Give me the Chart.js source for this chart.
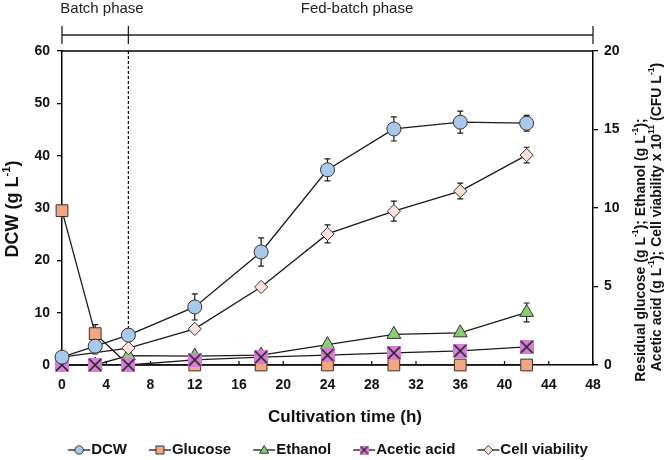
<!DOCTYPE html>
<html>
<head>
<meta charset="utf-8">
<script src="https://cdn.jsdelivr.net/npm/chart.js@4.4.1/dist/chart.umd.min.js"></script>
<style>
  html, body { margin: 0; padding: 0; background: #fff; }
  #wrap { width: 664px; height: 460px; }
</style>
</head>
<body>
<div id="wrap"><canvas id="growthChart" width="664" height="460"></canvas></div>
<script>
"use strict";

// sampling times (h)
var hours = [0, 3, 6, 12, 18, 24, 30, 36, 42];
var viabilityHours = [0, 6, 12, 18, 24, 30, 36, 42];

// left axis, g/L
var dcw = [1.5, 3.6, 5.7, 11.1, 21.6, 37.3, 45.1, 46.4, 46.2];
var dcwErr = [0, 1.5, 1.2, 2.5, 2.7, 2.1, 2.3, 2.1, 1.5];

// right axis
var glucose = [9.83, 2.0, 0, 0, 0, 0, 0, 0, 0];
var glucoseErr = [0, 0.57, 0, 0, 0, 0, 0, 0, 0];
var ethanol = [0, 0, 0.6, 0.57, 0.63, 1.3, 1.95, 2.05, 3.35];
var ethanolErr = [0, 0, 0, 0, 0, 0.08, 0.1, 0.1, 0.6];
var aceticAcid = [0, 0, 0, 0.33, 0.5, 0.63, 0.77, 0.9, 1.15];
var aceticErr = [0, 0, 0, 0, 0, 0, 0, 0, 0];
var viability = [0.5, 1.08, 2.3, 4.97, 8.35, 9.8, 11.08, 13.37];
var viabilityErr = [0, 0.1, 0.1, 0.15, 0.57, 0.64, 0.5, 0.5];

var xTicks = [0, 48, 4];
var leftTicks = [0, 60, 10];
var rightTicks = [0, 20, 5];
var batchEnd = 6;

var FONT = '"Liberation Sans", Arial, sans-serif';

function pairs(xs, ys) {
  return xs.map(function (x, i) {
    return { x: x, y: ys[i] };
  });
}

// magenta square with a cross, used for acetic acid
function crossBox(size) {
  var c = document.createElement("canvas");
  c.width = size;
  c.height = size;
  var g = c.getContext("2d");
  g.fillStyle = "#d77ed6";
  g.fillRect(0, 0, size, size);
  g.strokeStyle = "#222";
  g.lineWidth = size > 10 ? 1.6 : 1.2;
  g.beginPath();
  g.moveTo(1, 1);
  g.lineTo(size - 1, size - 1);
  g.moveTo(size - 1, 1);
  g.lineTo(1, size - 1);
  g.stroke();
  return c;
}

var crossBig = crossBox(14);
var crossSmall = crossBox(9);

function series(label, xs, ys, errs, axis, style, fill, radius, order) {
  return {
    label: label,
    data: pairs(xs, ys),
    errors: errs,
    yAxisID: axis,
    order: order,
    borderColor: "#1a1a1a",
    borderWidth: 1.3,
    tension: 0,
    clip: false,
    pointStyle: style,
    pointRadius: radius,
    pointHoverRadius: radius,
    pointBackgroundColor: fill,
    pointBorderColor: "#333",
    pointBorderWidth: 1,
  };
}

function drawRich(ctx, parts, cx, cy, size) {
  var w = 0;
  parts.forEach(function (p) {
    ctx.font = "bold " + (p.sup ? size * 0.62 : size) + "px " + FONT;
    w += ctx.measureText(p.t).width;
  });
  var x = cx - w / 2;
  ctx.textAlign = "left";
  ctx.textBaseline = "middle";
  parts.forEach(function (p) {
    ctx.font = "bold " + (p.sup ? size * 0.62 : size) + "px " + FONT;
    ctx.fillText(p.t, x, p.sup ? cy - size * 0.36 : cy);
    x += ctx.measureText(p.t).width;
  });
}

function legendMarker(ctx, ds, x, y) {
  ctx.fillStyle = ds.pointBackgroundColor;
  ctx.strokeStyle = "#333";
  ctx.lineWidth = 1;
  ctx.beginPath();
  if (ds.pointStyle === "circle") {
    ctx.arc(x, y, 4.2, 0, Math.PI * 2);
  } else if (ds.pointStyle === "rect") {
    ctx.rect(x - 4, y - 4, 8, 8);
  } else if (ds.pointStyle === "triangle") {
    ctx.moveTo(x, y - 4.5);
    ctx.lineTo(x + 4.5, y + 3.2);
    ctx.lineTo(x - 4.5, y + 3.2);
    ctx.closePath();
  } else if (ds.pointStyle === "rectRot") {
    ctx.moveTo(x, y - 4.5);
    ctx.lineTo(x + 4.5, y);
    ctx.lineTo(x, y + 4.5);
    ctx.lineTo(x - 4.5, y);
    ctx.closePath();
  } else {
    ctx.drawImage(crossSmall, x - 4.5, y - 4.5);
    return;
  }
  ctx.fill();
  ctx.stroke();
}

var errorBars = {
  id: "errorBars",
  beforeDatasetsDraw: function (chart) {
    var ctx = chart.ctx;
    ctx.save();
    ctx.strokeStyle = "#1a1a1a";
    ctx.lineWidth = 1.2;
    chart.data.datasets.forEach(function (ds, di) {
      var sc = chart.scales[ds.yAxisID];
      var meta = chart.getDatasetMeta(di);
      ds.data.forEach(function (pt, i) {
        var e = ds.errors[i];
        if (!e) return;
        var px = meta.data[i].x;
        var top = sc.getPixelForValue(pt.y + e);
        var bot = sc.getPixelForValue(Math.max(pt.y - e, 0));
        ctx.beginPath();
        ctx.moveTo(px, top);
        ctx.lineTo(px, bot);
        ctx.moveTo(px - 3, top);
        ctx.lineTo(px + 3, top);
        ctx.moveTo(px - 3, bot);
        ctx.lineTo(px + 3, bot);
        ctx.stroke();
      });
    });
    ctx.restore();
  },
};

var decorations = {
  id: "decorations",
  beforeDatasetsDraw: function (chart) {
    var ctx = chart.ctx;
    var a = chart.chartArea;
    var xs = chart.scales.x;
    ctx.save();
    ctx.strokeStyle = "#000";
    // top frame
    ctx.lineWidth = 1.5;
    ctx.beginPath();
    ctx.moveTo(a.left, a.top);
    ctx.lineTo(a.right, a.top);
    ctx.stroke();
    // x ticks pointing inward
    ctx.lineWidth = 1.2;
    ctx.beginPath();
    for (var t = xTicks[0]; t <= xTicks[1]; t += xTicks[2]) {
      var px = xs.getPixelForValue(t);
      ctx.moveTo(px, a.bottom);
      ctx.lineTo(px, a.bottom - 4);
    }
    ctx.stroke();
    // end of batch phase
    var bx = xs.getPixelForValue(batchEnd);
    ctx.setLineDash([3, 2]);
    ctx.beginPath();
    ctx.moveTo(bx, a.top);
    ctx.lineTo(bx, a.bottom);
    ctx.stroke();
    ctx.restore();
  },
  afterDraw: function (chart) {
    var ctx = chart.ctx;
    var xs = chart.scales.x;
    var x0 = xs.getPixelForValue(0);
    var x6 = xs.getPixelForValue(batchEnd);
    var x48 = xs.getPixelForValue(48);
    ctx.save();
    ctx.strokeStyle = "#222";
    ctx.lineWidth = 1.3;
    ctx.beginPath();
    ctx.moveTo(x0, 35);
    ctx.lineTo(x48, 35);
    [x0, x6, x48].forEach(function (px) {
      ctx.moveTo(px, 26);
      ctx.lineTo(px, 44);
    });
    ctx.stroke();

    ctx.fillStyle = "#222";
    ctx.font = "15px " + FONT;
    ctx.textAlign = "center";
    ctx.textBaseline = "middle";
    ctx.fillText("Batch phase", 102, 9);
    ctx.fillText("Fed-batch phase", 357, 9);

    ctx.fillStyle = "#111";
    // axis titles
    drawRich(ctx, [{ t: "Cultivation time (h)" }], 345, 417, 17);

    ctx.save();
    ctx.translate(13, 209);
    ctx.rotate(-Math.PI / 2);
    drawRich(ctx, [{ t: "DCW (g L" }, { t: "-1", sup: true }, { t: ")" }], 0, 0, 18);
    ctx.restore();

    ctx.save();
    ctx.translate(641, 250);
    ctx.rotate(-Math.PI / 2);
    drawRich(ctx, [
      { t: "Residual glucose (g L" }, { t: "-1", sup: true },
      { t: "); Ethanol (g L" }, { t: "-1", sup: true }, { t: ");" },
    ], 0, 0, 14);
    ctx.restore();

    ctx.save();
    ctx.translate(657, 217);
    ctx.rotate(-Math.PI / 2);
    drawRich(ctx, [
      { t: "Acetic acid (g L" }, { t: "-1", sup: true },
      { t: "); Cell viability x 10" }, { t: "11", sup: true },
      { t: " (CFU L" }, { t: "-1", sup: true }, { t: ")" },
    ], 0, 0, 14);
    ctx.restore();

    // legend
    var dsets = chart.data.datasets;
    ctx.font = "bold 15px " + FONT;
    var iconW = 22, gap = 22, total = 0;
    dsets.forEach(function (ds) {
      total += iconW + 1 + ctx.measureText(ds.label).width;
    });
    total += gap * (dsets.length - 1);
    var lx = 328 - total / 2;
    var ly = 450;
    dsets.forEach(function (ds) {
      ctx.strokeStyle = "#1a1a1a";
      ctx.lineWidth = 1.3;
      ctx.beginPath();
      ctx.moveTo(lx, ly);
      ctx.lineTo(lx + iconW, ly);
      ctx.stroke();
      legendMarker(ctx, ds, lx + iconW / 2, ly);
      ctx.fillStyle = "#111";
      ctx.font = "bold 15px " + FONT;
      ctx.textAlign = "left";
      ctx.textBaseline = "middle";
      ctx.fillText(ds.label, lx + iconW + 1, ly);
      lx += iconW + 1 + ctx.measureText(ds.label).width + gap;
    });
    ctx.restore();
  },
};

var tickFont = { family: FONT, size: 14, weight: "bold" };

var growthChart = new Chart(document.getElementById("growthChart").getContext("2d"), {
  type: "line",
  data: {
    datasets: [
      series("DCW", hours, dcw, dcwErr, "y", "circle", "#a9c9ec", 7, 0),
      series("Glucose", hours, glucose, glucoseErr, "y1", "rect", "#f4a67f", 8.3, 4),
      series("Ethanol", hours, ethanol, ethanolErr, "y1", "triangle", "#86d070", 8, 3),
      series("Acetic acid", hours, aceticAcid, aceticErr, "y1", crossBig, "#d77ed6", 7, 1),
      series("Cell viability", viabilityHours, viability, viabilityErr, "y1", "rectRot", "#fde1da", 6.6, 2),
    ],
  },
  options: {
    responsive: false,
    devicePixelRatio: 1,
    animation: false,
    layout: { padding: { top: 51, left: 0, right: 0, bottom: 0 } },
    plugins: {
      legend: { display: false },
      tooltip: { enabled: false },
    },
    scales: {
      x: {
        type: "linear",
        min: xTicks[0],
        max: xTicks[1],
        ticks: { stepSize: xTicks[2], font: tickFont, color: "#111", padding: 12, maxRotation: 0 },
        grid: { drawOnChartArea: false, drawTicks: false },
        border: { color: "#000", width: 1.5 },
        afterFit: function (s) { s.height = 95; },
      },
      y: {
        position: "left",
        min: leftTicks[0],
        max: leftTicks[1],
        ticks: { stepSize: leftTicks[2], font: tickFont, color: "#111", padding: 7 },
        grid: { drawOnChartArea: false, drawTicks: true, tickLength: 5, color: "#000", lineWidth: 1.3 },
        border: { color: "#000", width: 1.5 },
        afterFit: function (s) { s.width = 62; },
      },
      y1: {
        position: "right",
        min: rightTicks[0],
        max: rightTicks[1],
        ticks: { stepSize: rightTicks[2], font: tickFont, color: "#111", padding: 6 },
        grid: { drawOnChartArea: false, drawTicks: true, tickLength: 5, color: "#000", lineWidth: 1.3 },
        border: { color: "#000", width: 1.5 },
        afterFit: function (s) { s.width = 71; },
      },
    },
  },
  plugins: [decorations, errorBars],
});
</script>
</body>
</html>
